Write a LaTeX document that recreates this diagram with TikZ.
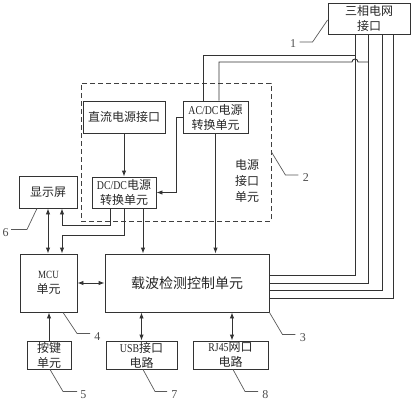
\documentclass[tikz,border=0pt]{standalone}
\usepackage{fontspec}
\setmainfont{Liberation Serif}
\newfontfamily\cjk{Noto Sans CJK SC}
\newfontfamily\latn[FakeStretch=0.82]{Liberation Serif}
\usetikzlibrary{arrows.meta,calc}
\begin{document}
\begin{tikzpicture}[x=1pt,y=-1pt,
  box/.style={draw=black!80,line width=0.9pt,rectangle,inner sep=0pt,align=center,
    font=\cjk\fontsize{12}{15}\selectfont,text=black!85},
  ln/.style={draw=black!80,line width=0.9pt},
  arr/.style={ln,-{Latex[length=6pt,width=4.5pt]}},
  darr/.style={ln,{Latex[length=6pt,width=4.5pt]}-{Latex[length=6pt,width=4.5pt]}},
  lead/.style={draw=black!65,line width=0.7pt},
  num/.style={font=\fontsize{12}{12}\selectfont,text=black!70,inner sep=0pt}]
\useasboundingbox (0,0) rectangle (411,400);

% dashed power interface unit
\node[draw=black!75,line width=0.9pt,dash pattern=on 5pt off 3pt,rectangle,
  minimum width=190pt,minimum height=138pt,inner sep=0pt] (pwr) at (176,152) {};
\node[box,draw=none,fill=none,font=\cjk\fontsize{12}{16}\selectfont] (pwrt) at (247,181) {电源\\接口\\单元};

% boxes
\node[box,minimum width=82pt,minimum height=31pt] (grid) at (369,18.5) {三相电网\\接口};
\node[box,minimum width=82pt,minimum height=32pt] (dcin) at (124,117) {直流电源接口};
\node[box,minimum width=65pt,minimum height=32pt] (acdc) at (215.5,117) {{\latn AC/DC}电源\\转换单元};
\node[box,minimum width=64pt,minimum height=31pt] (dcdc) at (124,192.5) {{\latn DC/DC}电源\\转换单元};
\node[box,minimum width=58pt,minimum height=32pt] (disp) at (48,192) {显示屏};
\node[box,minimum width=57pt,minimum height=58pt] (mcu) at (48.5,283) {{\latn\fontsize{11}{13}\selectfont MCU}\\单元};
\node[box,minimum width=164pt,minimum height=58pt,font=\cjk\fontsize{14}{16}\selectfont] (carrier) at (187,283) {载波检测控制单元};
\node[box,minimum width=44pt,minimum height=28pt] (key) at (49,355) {按键\\单元};
\node[box,minimum width=71pt,minimum height=28pt] (usb) at (141.5,355) {{\latn USB}接口\\电路};
\node[box,minimum width=75pt,minimum height=28pt] (rj) at (230.5,355) {{\latn RJ45}网口\\电路};

% helper coordinates
\coordinate (b1) at (355,0);
\coordinate (b2) at (368.5,0);
\coordinate (b3) at (382,0);
\coordinate (b4) at (393.5,0);
\coordinate (h1) at (0,55);
\coordinate (h2) at (0,62);
\coordinate (d3) at ($(dcdc.south)+(19,0)$);

% three-phase bus to carrier unit
\draw[ln] (b1 |- grid.south) |- ($(carrier.east)+(0,-7.5)$);
\draw[ln] (b2 |- grid.south) |- (carrier.east);
\draw[ln] (b3 |- grid.south) |- ($(carrier.east)+(0,7.5)$);
\draw[ln] (b4 |- grid.south) |- ($(carrier.east)+(0,15)$);

% three-phase to AC/DC
\draw[ln] (b1 |- h1) -| ($(acdc.north)+(-12.5,0)$);
\draw[ln] (b2 |- h2) -- ($(b1 |- h2)+(3,0)$) arc[start angle=0,end angle=180,radius=3pt]
  -| ($(acdc.north)+(3.5,0)$);

% power connections
\draw[arr] (dcin.south) -- (dcdc.north);
\draw[arr] (acdc.west) -- ++(-6,0) |- (dcdc.east);
\draw[arr] (acdc.south) -- (acdc.south |- carrier.north);
\draw[arr] ($(dcdc.south)+(-14,0)$) -- ++(0,17) -| ($(disp.south)+(14,0)$);
\draw[arr] (dcdc.south) -- ++(0,27) -| ($(mcu.north)+(13.5,0)$);
\draw[arr] (d3) -- (d3 |- carrier.north);

% signal connections
\draw[darr] (disp.south) -- (disp.south |- mcu.north);
\draw[darr] (mcu.east) -- (carrier.west);
\draw[arr] (key.north) -- (key.north |- mcu.south);
\draw[darr] (usb.north) -- (usb.north |- carrier.south);
\draw[darr] ($(rj.north)+(1.5,0)$) -- ($(rj.north |- carrier.south)+(1.5,0)$);

% reference leaders
\draw[lead] ($(grid.west)+(0,1.5)$) -- ++(-15,22) -- ++(-13,0)
  node[num,anchor=east,xshift=-3pt,yshift=-2pt] (n1) {1};
\draw[lead] (pwr.east) -- ++(14,23) -- ++(13,0)
  node[num,anchor=west,xshift=4pt,yshift=-3pt] (n2) {2};
\draw[lead] (carrier.south east) -- ++(13,22) -- ++(13,0)
  node[num,anchor=west,xshift=4pt,yshift=-3pt] (n3) {3};
\draw[lead] ($(mcu.south)+(14.5,0)$) -- ++(14,21) -- ++(13,0)
  node[num,anchor=west,xshift=4pt,yshift=-3pt] (n4) {4};
\draw[lead] ($(key.south)+(1,0)$) -- ++(13,22) -- ++(14,0)
  node[num,anchor=west,xshift=3pt,yshift=-3pt] (n5) {5};
\draw[lead] ($(disp.south)+(-11,0)$) -- ++(-10,21) -- ++(-16,0)
  node[num,anchor=east,xshift=-2pt,yshift=-3pt] (n6) {6};
\draw[lead] ($(usb.south)+(1.5,0)$) -- ++(12,22) -- ++(12,0)
  node[num,anchor=west,xshift=4pt,yshift=-3pt] (n7) {7};
\draw[lead] ($(rj.south)+(2.5,0)$) -- ++(12,22) -- ++(13,0)
  node[num,anchor=west,xshift=4pt,yshift=-3pt] (n8) {8};
\end{tikzpicture}
\end{document}
